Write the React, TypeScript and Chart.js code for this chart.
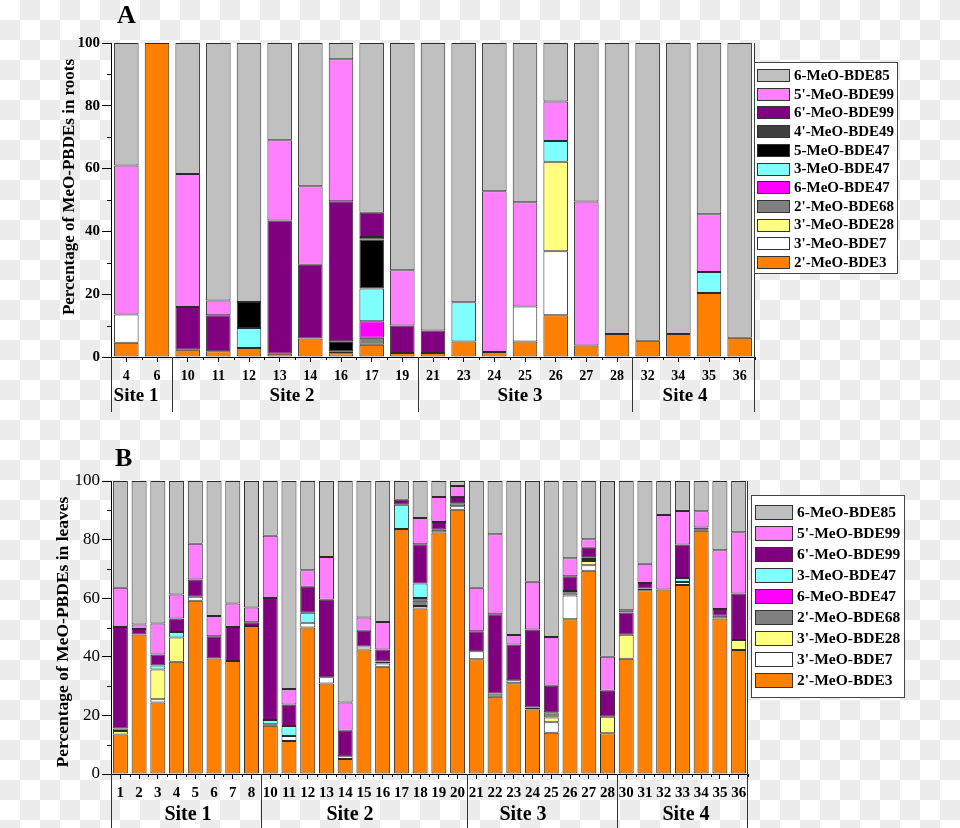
import React, { useEffect, useRef } from "react";
import { Chart, registerables } from "chart.js";

Chart.register(...registerables);

const FONT = "'Liberation Serif', 'Times New Roman', serif";

// ---------------- Panel A (roots) ----------------
const rootCategories = ["4", "6", "10", "11", "12", "13", "14", "16", "17", "19", "21", "23", "24", "25", "26", "27", "28", "32", "34", "35", "36"];
const rootBDE3 = [4.5, 100, 2.3, 1.8, 2.9, 1.0, 5.9, 1.2, 3.9, 1.3, 1.3, 4.9, 1.6, 4.9, 13.3, 3.7, 7.3, 5.2, 7.3, 20.4, 6.1];
const rootBDE7 = [9.0, 0, 0, 0, 0, 0, 0, 0, 0, 0, 0, 0, 0, 11.2, 20.4, 0, 0, 0, 0, 0, 0];
const rootBDE28 = [0, 0, 0, 0, 0, 0, 0, 0, 0, 0, 0, 0, 0, 0, 28.5, 0, 0, 0, 0, 0, 0];
const rootBDE68 = [0, 0, 0, 0, 0, 0, 0, 0, 2.2, 0, 0, 0, 0, 0, 0, 0, 0, 0, 0, 0, 0];
const root6BDE47 = [0, 0, 0, 0, 0, 0, 0, 0.6, 5.3, 0, 0, 0, 0, 0, 0, 0, 0, 0, 0, 0, 0];
const root3BDE47 = [0, 0, 0, 0, 6.3, 0, 0, 0, 10.4, 0, 0, 12.5, 0, 0, 6.6, 0, 0, 0, 0, 6.7, 0];
const root5BDE47 = [0, 0, 0, 0, 8.3, 0, 0, 3.2, 15.6, 0, 0, 0, 0, 0, 0, 0, 0, 0, 0, 0, 0];
const rootBDE49 = [0, 0, 0, 0, 0, 0, 0, 0, 0.8, 0, 0, 0, 0, 0, 0, 0, 0, 0, 0, 0, 0];
const root6pBDE99 = [0, 0, 13.6, 11.5, 0, 42.5, 23.5, 44.6, 7.7, 8.7, 7.1, 0, 0, 0, 0, 0, 0, 0, 0, 0, 0];
const root5pBDE99 = [47.5, 0, 42.4, 4.7, 0, 25.5, 25.0, 45.2, 0, 17.6, 0, 0, 51.2, 33.2, 12.6, 45.8, 0, 0, 0, 18.4, 0];
const rootBDE85 = [39.0, 0, 41.7, 82.0, 82.5, 31.0, 45.6, 5.2, 54.1, 72.4, 91.6, 82.6, 47.2, 50.7, 18.6, 50.5, 92.7, 94.8, 92.7, 54.5, 93.9];

const rootSites = ["Site 1", "Site 2", "Site 3", "Site 4"];
const rootSiteStarts = [2, 10, 17];

// ---------------- Panel B (leaves) ----------------
const leafCategories = ["1", "2", "3", "4", "5", "6", "7", "8", "10", "11", "12", "13", "14", "15", "16", "17", "18", "19", "20", "21", "22", "23", "24", "25", "26", "27", "28", "30", "31", "32", "33", "34", "35", "36"];
const leafBDE3 = [13.5, 47.6, 24.4, 38.3, 59.1, 39.4, 38.6, 50.5, 16.5, 11.25, 50.0, 30.9, 5.1, 42.5, 36.6, 83.6, 56.5, 82.4, 90.2, 39.2, 26.4, 31.0, 22.0, 14.1, 52.8, 69.4, 13.9, 39.3, 62.7, 63.0, 64.5, 83.0, 53.1, 42.3];
const leafBDE7 = [0, 0, 1.1, 0, 1.4, 0, 0, 0, 0.5, 1.75, 1.6, 2.1, 1.0, 1.0, 1.1, 0, 0.8, 0, 1.2, 2.7, 0, 0, 0, 3.6, 8.1, 1.85, 0, 0, 0, 0, 1.0, 0, 0, 0];
const leafBDE28 = [1.2, 0, 10.2, 8.3, 0, 0, 0, 0, 0, 0, 0, 0, 0, 0, 0, 0, 0, 0, 0, 0, 0, 0, 0, 1.6, 0, 1.45, 5.6, 8.2, 0, 0, 0, 0, 0, 3.4];
const leafBDE68 = [0.8, 0, 0, 0, 0, 0, 0, 0, 0, 0, 0, 0, 0, 0, 0.7, 0, 1.8, 1.0, 1.0, 0, 1.1, 0, 0.7, 1.8, 1.6, 0.7, 0, 0, 0.6, 0, 0, 0.4, 0.9, 0];
const leaf6BDE47 = [0, 0, 0, 0, 0, 0, 0, 0, 0, 0, 0, 0, 0, 0, 0, 0, 1.0, 0, 0, 0, 0, 0, 0, 0, 0, 0, 0, 0, 0, 0, 0, 0, 0, 0];
const leaf3BDE47 = [0, 0, 1.3, 1.9, 0, 0, 0, 0, 1.4, 3.4, 3.4, 0, 0, 0, 0, 8.3, 4.9, 0, 0, 0, 0, 1.0, 0, 0, 0, 0.6, 0, 0, 0, 0, 1.4, 0, 0, 0];
const leaf6pBDE99 = [34.7, 1.9, 3.8, 4.6, 5.9, 7.6, 11.6, 1.3, 41.7, 7.35, 8.9, 26.5, 8.7, 5.4, 4.1, 1.7, 13.4, 2.6, 2.1, 6.85, 27.0, 12.2, 26.6, 9.0, 5.0, 3.2, 8.9, 7.6, 1.9, 0, 11.4, 0.7, 2.3, 15.9];
const leaf5pBDE99 = [13.4, 1.5, 10.6, 8.2, 12.2, 6.9, 8.0, 5.0, 21.2, 5.25, 5.6, 14.6, 9.6, 4.5, 9.4, 0, 9.0, 8.5, 3.8, 14.85, 27.3, 3.2, 16.3, 16.7, 6.1, 2.9, 11.6, 0.8, 6.6, 25.4, 11.5, 5.6, 20.1, 20.9];
const leafBDE85 = [36.4, 49.0, 48.6, 38.7, 21.4, 46.1, 41.8, 43.2, 18.7, 71.0, 30.5, 25.9, 75.6, 46.6, 48.1, 6.4, 12.6, 5.5, 1.7, 36.4, 18.2, 52.6, 34.4, 53.2, 26.4, 19.9, 60.0, 44.1, 28.2, 11.6, 10.2, 10.3, 23.6, 17.5];

const leafSites = ["Site 1", "Site 2", "Site 3", "Site 4"];
const leafSiteStarts = [8, 19, 27];

const COLORS: Record<string, string> = {
  "6-MeO-BDE85": "#C0C0C0",
  "5'-MeO-BDE99": "#FF80FF",
  "6'-MeO-BDE99": "#800080",
  "4'-MeO-BDE49": "#404040",
  "5-MeO-BDE47": "#000000",
  "3-MeO-BDE47": "#80FFFF",
  "6-MeO-BDE47": "#FF00FF",
  "2'-MeO-BDE68": "#808080",
  "3'-MeO-BDE28": "#FFFF80",
  "3'-MeO-BDE7": "#FFFFFF",
  "2'-MeO-BDE3": "#FF8000",
};

type Series = [string, number[]];

const rootSeries: Series[] = [
  ["2'-MeO-BDE3", rootBDE3],
  ["3'-MeO-BDE7", rootBDE7],
  ["3'-MeO-BDE28", rootBDE28],
  ["2'-MeO-BDE68", rootBDE68],
  ["6-MeO-BDE47", root6BDE47],
  ["3-MeO-BDE47", root3BDE47],
  ["5-MeO-BDE47", root5BDE47],
  ["4'-MeO-BDE49", rootBDE49],
  ["6'-MeO-BDE99", root6pBDE99],
  ["5'-MeO-BDE99", root5pBDE99],
  ["6-MeO-BDE85", rootBDE85],
];

const leafSeries: Series[] = [
  ["2'-MeO-BDE3", leafBDE3],
  ["3'-MeO-BDE7", leafBDE7],
  ["3'-MeO-BDE28", leafBDE28],
  ["2'-MeO-BDE68", leafBDE68],
  ["6-MeO-BDE47", leaf6BDE47],
  ["3-MeO-BDE47", leaf3BDE47],
  ["6'-MeO-BDE99", leaf6pBDE99],
  ["5'-MeO-BDE99", leaf5pBDE99],
  ["6-MeO-BDE85", leafBDE85],
];

interface PanelSpec {
  width: number;
  height: number;
  plotTop: number;
  plotBottom: number;
  plotLeft: number;
  plotRight: number;
  xHeight: number;
  categories: string[];
  series: Series[];
  siteNames: string[];
  siteStarts: number[];
  siteX: number[];
  siteBaseline: number;
  siteFont: string;
  sepBottom: number;
  letter: string;
  letterX: number;
  letterY: number;
  yTitle: string;
  yTitleX: number;
  yTitleY: number;
  yTitleFont: string;
  yTickFont: { size: number; weight: string };
  yTickPad: number;
  xTickFont: { size: number; weight: string };
  xTickPad: number;
  legend: { x: number; y: number; w: number; h: number; row0: number; rowH: number; swX: number; swW: number; swH: number; textX: number; font: string };
}

function makeDecor(spec: PanelSpec) {
  return {
    id: "decor",
    beforeDraw(chart: any) {
      const { ctx, chartArea } = chart;
      ctx.save();
      ctx.fillStyle = "#FFFFFF";
      ctx.fillRect(chartArea.left, chartArea.top, chartArea.right - chartArea.left, chartArea.bottom - chartArea.top);
      ctx.restore();
    },
    afterDraw(chart: any) {
      const { ctx, chartArea } = chart;
      const xs = chart.scales.x;
      const ys = chart.scales.y;
      const n = spec.categories.length;
      const step = xs.getPixelForValue(1) - xs.getPixelForValue(0);
      const boundary = (i: number) => xs.getPixelForValue(i) - step / 2;
      ctx.save();
      ctx.strokeStyle = "#000";
      ctx.lineWidth = 1;
      // minor y ticks
      for (let v = 10; v < 100; v += 20) {
        const y = Math.round(ys.getPixelForValue(v)) + 0.5;
        ctx.beginPath();
        ctx.moveTo(chartArea.left - 4, y);
        ctx.lineTo(chartArea.left, y);
        ctx.stroke();
      }
      // boundary x ticks
      for (let i = 0; i <= n; i++) {
        const x = Math.round(boundary(i)) + 0.5;
        ctx.beginPath();
        ctx.moveTo(x, chartArea.bottom);
        ctx.lineTo(x, chartArea.bottom + 3);
        ctx.stroke();
      }
      // right frame line
      ctx.strokeStyle = "#333";
      const rx = Math.round(chartArea.right) - 0.5;
      ctx.beginPath();
      ctx.moveTo(rx, chartArea.top);
      ctx.lineTo(rx, spec.sepBottom);
      ctx.stroke();
      // site separators
      const seps = [0, ...spec.siteStarts];
      seps.forEach((i) => {
        const x = Math.round(i === 0 ? chartArea.left : boundary(i)) + 0.5;
        ctx.beginPath();
        ctx.moveTo(x, chartArea.bottom);
        ctx.lineTo(x, spec.sepBottom);
        ctx.stroke();
      });
      // site labels
      ctx.fillStyle = "#000";
      ctx.font = spec.siteFont;
      ctx.textAlign = "center";
      ctx.textBaseline = "alphabetic";
      spec.siteNames.forEach((s, k) => ctx.fillText(s, spec.siteX[k], spec.siteBaseline));
      // panel letter
      ctx.font = `bold 26px ${FONT}`;
      ctx.textAlign = "left";
      ctx.fillText(spec.letter, spec.letterX, spec.letterY);
      // y title
      ctx.save();
      ctx.translate(spec.yTitleX, spec.yTitleY);
      ctx.rotate(-Math.PI / 2);
      ctx.font = spec.yTitleFont;
      ctx.textAlign = "center";
      ctx.textBaseline = "middle";
      ctx.fillText(spec.yTitle, 0, 0);
      ctx.restore();
      // legend
      const L = spec.legend;
      ctx.fillStyle = "#FFFFFF";
      ctx.fillRect(L.x, L.y, L.w, L.h);
      ctx.strokeStyle = "#444";
      ctx.strokeRect(L.x + 0.5, L.y + 0.5, L.w, L.h);
      const entries = [...spec.series].reverse();
      ctx.font = L.font;
      ctx.textBaseline = "middle";
      ctx.textAlign = "left";
      entries.forEach(([name], k) => {
        const cy = L.row0 + k * L.rowH;
        const top = Math.round(cy - L.swH / 2);
        ctx.fillStyle = COLORS[name];
        ctx.fillRect(L.swX, top, L.swW, L.swH);
        ctx.strokeStyle = "#333";
        ctx.strokeRect(L.swX + 0.5, top + 0.5, L.swW, L.swH);
        ctx.fillStyle = "#000";
        ctx.fillText(name, L.textX, cy + 1);
      });
      ctx.restore();
    },
  };
}

function buildConfig(spec: PanelSpec): any {
  return {
    type: "bar",
    data: {
      labels: spec.categories,
      datasets: spec.series.map(([name, values]) => ({
        label: name,
        data: values,
        backgroundColor: COLORS[name],
        borderColor: "#2a2a2a",
        borderWidth: 1,
        borderSkipped: false,
        barPercentage: 0.8,
        categoryPercentage: 1,
      })),
    },
    options: {
      animation: false,
      responsive: false,
      maintainAspectRatio: false,
      layout: {
        padding: {
          left: 0,
          top: spec.plotTop,
          right: spec.width - spec.plotRight,
          bottom: spec.height - spec.plotBottom - spec.xHeight,
        },
      },
      plugins: {
        legend: { display: false },
        tooltip: { enabled: false },
        title: { display: false },
      },
      scales: {
        x: {
          stacked: true,
          grid: { display: true, drawOnChartArea: false, drawTicks: true, tickLength: 5, color: "#000", offset: false },
          border: { display: true, color: "#000", width: 1 },
          ticks: {
            color: "#000",
            font: { family: FONT, size: spec.xTickFont.size, weight: spec.xTickFont.weight },
            padding: spec.xTickPad,
            maxRotation: 0,
            minRotation: 0,
            autoSkip: false,
          },
          afterFit: (s: any) => {
            s.height = spec.xHeight;
          },
        },
        y: {
          stacked: true,
          min: 0,
          max: 100,
          grid: { display: true, drawOnChartArea: false, drawTicks: true, tickLength: 9, color: "#000" },
          border: { display: true, color: "#000", width: 1 },
          ticks: {
            stepSize: 20,
            color: "#000",
            font: { family: FONT, size: spec.yTickFont.size, weight: spec.yTickFont.weight },
            padding: spec.yTickPad,
          },
          afterFit: (s: any) => {
            s.width = spec.plotLeft;
          },
        },
      },
    },
    plugins: [makeDecor(spec)],
  };
}

const specA: PanelSpec = {
  width: 960,
  height: 430,
  plotTop: 43,
  plotBottom: 357,
  plotLeft: 111,
  plotRight: 755,
  xHeight: 30,
  categories: rootCategories,
  series: rootSeries,
  siteNames: rootSites,
  siteStarts: rootSiteStarts,
  siteX: [136, 292, 520, 685],
  siteBaseline: 401,
  siteFont: `bold 19px ${FONT}`,
  sepBottom: 412,
  letter: "A",
  letterX: 117,
  letterY: 23,
  yTitle: "Percentage of MeO-PBDEs in roots",
  yTitleX: 70,
  yTitleY: 187,
  yTitleFont: `bold 17px ${FONT}`,
  yTickFont: { size: 15, weight: "bold" },
  yTickPad: 2,
  xTickFont: { size: 14, weight: "bold" },
  xTickPad: 6,
  legend: { x: 754, y: 62, w: 143, h: 211, row0: 75, rowH: 18.7, swX: 757, swW: 32, swH: 12, textX: 794, font: `bold 15px ${FONT}` },
};

const specB: PanelSpec = {
  width: 960,
  height: 398,
  plotTop: 51,
  plotBottom: 344,
  plotLeft: 111,
  plotRight: 748,
  xHeight: 32,
  categories: leafCategories,
  series: leafSeries,
  siteNames: leafSites,
  siteStarts: leafSiteStarts,
  siteX: [188, 350, 523, 686],
  siteBaseline: 390,
  siteFont: `bold 20px ${FONT}`,
  sepBottom: 398,
  letter: "B",
  letterX: 115,
  letterY: 36,
  yTitle: "Percentage of MeO-PBDEs in leaves",
  yTitleX: 63,
  yTitleY: 202,
  yTitleFont: `bold 17.5px ${FONT}`,
  yTickFont: { size: 17, weight: "normal" },
  yTickPad: 2,
  xTickFont: { size: 15, weight: "bold" },
  xTickPad: 5,
  legend: { x: 751, y: 65, w: 153, h: 202, row0: 82.3, rowH: 21, swX: 755, swW: 37, swH: 14, textX: 797, font: `bold 15.5px ${FONT}` },
};

function Panel({ spec, top }: { spec: PanelSpec; top: number }) {
  const ref = useRef<HTMLCanvasElement | null>(null);
  useEffect(() => {
    if (!ref.current) return;
    const chart = new Chart(ref.current, buildConfig(spec));
    return () => chart.destroy();
  }, [spec]);
  return (
    <canvas
      ref={ref}
      width={spec.width}
      height={spec.height}
      style={{ position: "absolute", left: 0, top, width: spec.width, height: spec.height, display: "block" }}
    />
  );
}

export default function App() {
  return (
    <div
      style={{
        position: "fixed",
        left: 0,
        top: 0,
        width: 960,
        height: 828,
        overflow: "hidden",
        backgroundColor: "#FFFFFF",
        backgroundImage: "conic-gradient(#ECECEC 25%, #FFFFFF 0 50%, #ECECEC 0 75%, #FFFFFF 0)",
        backgroundSize: "40px 40px",
      }}
    >
      <Panel spec={specA} top={0} />
      <Panel spec={specB} top={430} />
    </div>
  );
}
